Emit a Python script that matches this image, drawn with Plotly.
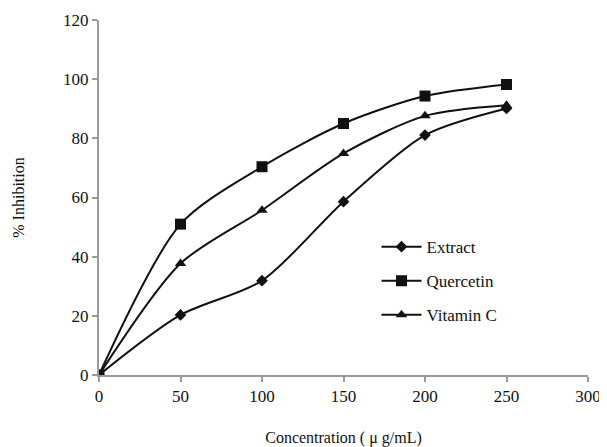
import plotly.graph_objects as go

conc = [0, 50, 100, 150, 200, 250]
extract = [0, 20.3, 31.9, 58.6, 81.1, 90.1]
quercetin = [0, 51.0, 70.4, 85.0, 94.3, 98.2]
vitamin_c = [0, 37.7, 55.7, 74.9, 87.6, 91.2]

series = [
    ("Extract", extract, "diamond", 9),
    ("Quercetin", quercetin, "square", 11),
    ("Vitamin C", vitamin_c, "triangle-up", 10),
]

fig = go.Figure()
for i, (name, ys, sym, sz) in enumerate(series):
    fig.add_trace(go.Scatter(
        x=conc, y=ys, name=name, mode="lines+markers",
        line=dict(color="#111111", width=2, shape="spline", smoothing=0.8),
        marker=dict(symbol=sym, size=sz, color="#111111"),
        legendgroup=f"g{i}",
    ))

font = "Liberation Serif"
fig.update_layout(
    width=599, height=439,
    margin=dict(l=91, r=19, t=12, b=72),
    paper_bgcolor="white", plot_bgcolor="white",
    font=dict(family=font, size=17, color="#111111"),
    legend=dict(x=0.5675, y=0.411, xanchor="left", yanchor="top",
                traceorder="grouped", tracegroupgap=9,
                font=dict(family=font, size=17), bgcolor="rgba(0,0,0,0)",
                itemwidth=40),
    xaxis=dict(range=[0, 300], tickvals=[0, 50, 100, 150, 200, 250, 300],
               showgrid=False, zeroline=False, showline=True, automargin=False,
               linecolor="#9a9a9a", linewidth=2, ticks="outside",
               tickcolor="#9a9a9a", ticklen=5, tickwidth=2,
               title=dict(text="Concentration ( μ g/mL)", standoff=32,
                          font=dict(size=16))),
    yaxis=dict(range=[0, 120], tickvals=[0, 20, 40, 60, 80, 100, 120],
               showgrid=False, zeroline=False, showline=True, automargin=False,
               linecolor="#9a9a9a", linewidth=2, ticks="outside",
               tickcolor="#9a9a9a", ticklen=5, tickwidth=2,
               title=dict(text="% Inhibition", standoff=34,
                          font=dict(size=16))),
)

fig.write_html("out.html")
